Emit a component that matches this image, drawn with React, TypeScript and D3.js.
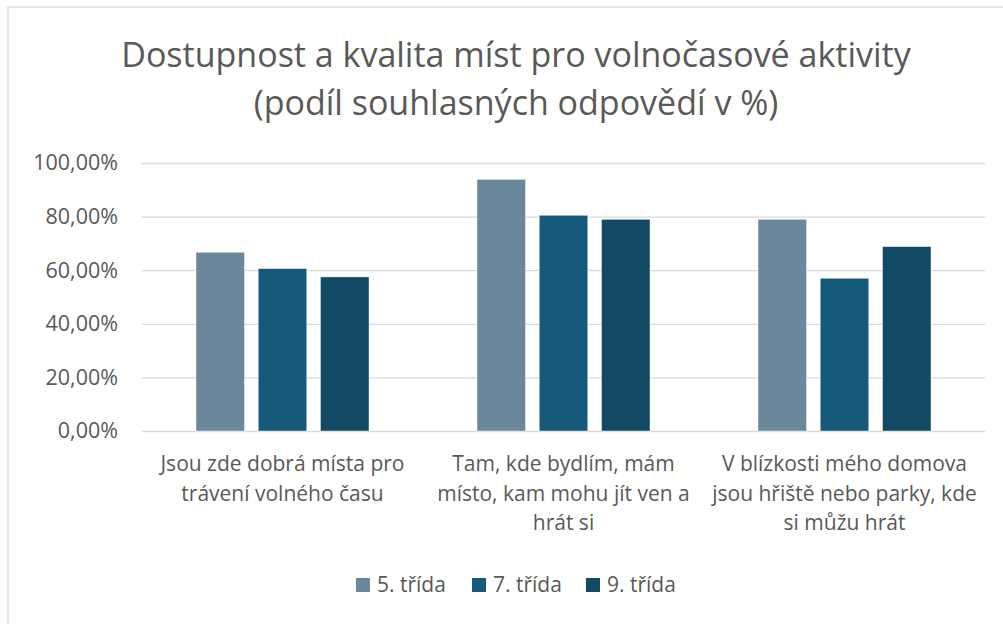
import React, { useEffect, useRef } from "react";
import { select, scaleBand, scaleLinear, axisLeft, format } from "d3";

const categories = [
  ["Jsou zde dobrá místa pro", "trávení volného času"],
  ["Tam, kde bydlím, mám", "místo, kam mohu jít ven a", "hrát si"],
  ["V blízkosti mého domova", "jsou hřiště nebo parky, kde", "si můžu hrát"],
];
const series = ["5. třída", "7. třída", "9. třída"];
const grade5 = [66.7, 93.9, 79.0];
const grade7 = [60.6, 80.5, 57.0];
const grade9 = [57.5, 79.0, 68.8];
const yTicks = [0, 20, 40, 60, 80, 100];
const colors = ["#6b879c", "#155a7a", "#124a66"];

const values = [grade5, grade7, grade9];

const W = 1003;
const H = 624;
const FONT = "'Open Sans', sans-serif";
const TEXT = "#595959";

const App = () => {
  const ref = useRef<SVGSVGElement>(null);

  useEffect(() => {
    const svg = select(ref.current);
    svg.selectAll("*").remove();

    const left = 142;
    const right = 985;
    const top = 163;
    const bottom = 431;

    // frame (only top/left visible in the picture)
    svg
      .append("rect")
      .attr("x", 8)
      .attr("y", 7)
      .attr("width", W + 20)
      .attr("height", H + 20)
      .attr("fill", "#fff")
      .attr("stroke", "#d9d9d9")
      .attr("stroke-width", 1.3);

    const x0 = scaleBand<number>()
      .domain(categories.map((_, i) => i))
      .range([left, right]);
    const groupW = 173;
    const x1 = scaleBand<number>()
      .domain(series.map((_, i) => i))
      .range([(x0.bandwidth() - groupW) / 2, (x0.bandwidth() + groupW) / 2])
      .paddingInner(0.22);
    const y = scaleLinear().domain([0, 100]).range([bottom, top]);

    // gridlines + tick labels
    const yAxis = axisLeft(y)
      .tickValues(yTicks)
      .tickSize(-(right - left))
      .tickPadding(24)
      .tickFormat((d) => format(".2f")(d as number).replace(".", ",") + "%");
    const ga = svg.append("g").attr("transform", `translate(${left},0)`).call(yAxis);
    ga.select(".domain").remove();
    ga.selectAll(".tick line").attr("stroke", "#d9d9d9").attr("stroke-width", 1.3);
    ga.selectAll(".tick text")
      .attr("fill", TEXT)
      .style("font-family", FONT)
      .style("font-size", "21.5px");

    // bars
    const groups = svg
      .append("g")
      .selectAll("g")
      .data(categories)
      .join("g")
      .attr("transform", (_, i) => `translate(${x0(i)},0)`);
    groups
      .selectAll("rect")
      .data((_, ci) => series.map((_, si) => ({ si, v: values[si][ci] })))
      .join("rect")
      .attr("x", (d) => x1(d.si)!)
      .attr("width", x1.bandwidth())
      .attr("y", (d) => y(d.v))
      .attr("height", (d) => bottom - y(d.v))
      .attr("fill", (d) => colors[d.si])
      .attr("stroke", "#ffffff")
      .attr("stroke-opacity", 0.6)
      .attr("stroke-width", 0.75);

    // category labels
    const lab = svg
      .append("g")
      .selectAll("text")
      .data(categories)
      .join("text")
      .attr("x", (_, i) => x0(i)! + x0.bandwidth() / 2)
      .attr("y", 471)
      .attr("text-anchor", "middle")
      .attr("fill", TEXT)
      .style("font-family", FONT)
      .style("font-size", "21px");
    lab
      .selectAll("tspan")
      .data((d) => d)
      .join("tspan")
      .attr("x", function () {
        return (this as SVGTSpanElement).parentElement!.getAttribute("x");
      })
      .attr("dy", (_, i) => (i === 0 ? 0 : 29.5))
      .text((d) => d);

    // title
    const title = svg
      .append("text")
      .attr("text-anchor", "middle")
      .attr("fill", TEXT)
      .style("font-family", FONT)
      .style("font-size", "34px");
    title.append("tspan").attr("x", 516).attr("y", 67).text("Dostupnost a kvalita míst pro volnočasové aktivity");
    title.append("tspan").attr("x", 516).attr("y", 115).text("(podíl souhlasných odpovědí v %)");

    // legend
    const legX = [356, 472, 586];
    const leg = svg
      .append("g")
      .selectAll("g")
      .data(series)
      .join("g")
      .attr("transform", (_, i) => `translate(${legX[i]},578)`);
    leg
      .append("rect")
      .attr("width", 14)
      .attr("height", 14)
      .attr("fill", (_, i) => colors[i]);
    leg
      .append("text")
      .attr("x", 21)
      .attr("y", 14)
      .attr("fill", TEXT)
      .style("font-family", FONT)
      .style("font-size", "21px")
      .text((d) => d);
  }, []);

  return (
    <svg
      ref={ref}
      width={W}
      height={H}
      style={{ position: "absolute", left: 0, top: 0, background: "#fff" }}
    />
  );
};

export default App;
